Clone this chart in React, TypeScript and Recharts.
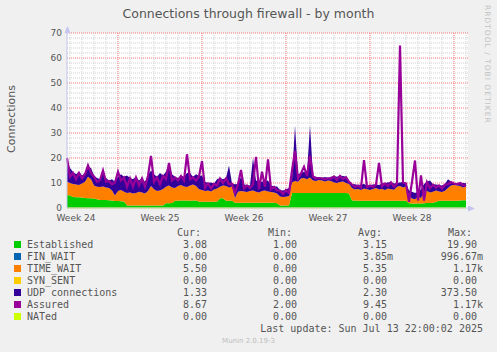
import {
  Area,
  CartesianGrid,
  ComposedChart,
  Line,
  XAxis,
  YAxis,
} from "recharts";

// 6-hour samples, oldest first (134 points, about 33 days)
const established = [
  5.2, 5.0, 4.4, 4.3, 4.3, 4.2, 4.0, 3.9, 3.9, 3.8,
  3.5, 3.2, 3.2, 3.2, 3.1, 3.0, 2.8, 2.8, 2.7, 2.6,
  1.0, 1.0, 1.0, 1.0, 1.0, 1.0, 1.0, 1.0, 1.0, 1.0,
  1.0, 1.0, 1.0, 1.9, 1.9, 2.0, 2.9, 2.9, 3.0, 3.0,
  3.0, 2.9, 3.0, 3.0, 2.6, 2.5, 2.5, 2.5, 2.5, 2.5,
  2.5, 3.9, 3.9, 2.9, 2.9, 2.9, 2.1, 2.1, 2.1, 2.1,
  2.1, 2.1, 2.1, 2.1, 2.1, 2.1, 2.1, 2.1, 2.1, 2.1,
  1.9, 1.0, 1.0, 1.0, 1.0, 6.0, 6.0, 6.0, 6.0, 6.0,
  6.0, 6.0, 6.0, 6.0, 6.0, 6.0, 6.0, 6.0, 6.0, 6.0,
  6.0, 6.0, 6.0, 6.0, 5.8, 3.0, 3.0, 2.9, 2.9, 2.9,
  2.9, 2.9, 2.9, 2.9, 2.9, 2.9, 2.9, 2.9, 2.9, 2.9,
  2.9, 2.9, 2.9, 2.9, 1.9, 1.8, 1.8, 1.8, 1.8, 1.9,
  2.0, 2.0, 2.1, 2.4, 2.9, 2.9, 2.9, 2.9, 2.9, 2.9,
  2.9, 3.0, 3.1, 3.08,
];

const timeWait = [
  5.3, 5.0, 5.2, 5.1, 4.9, 5.6, 6.5, 8.6, 7.6, 5.2,
  5.0, 5.2, 5.4, 5.0, 4.9, 4.0, 2.2, 4.0, 4.5, 3.9,
  5.0, 5.2, 4.8, 5.0, 5.5, 5.2, 4.8, 5.8, 7.8, 6.5,
  5.8, 6.0, 6.6, 6.6, 7.1, 6.2, 5.1, 5.9, 6.2, 5.6,
  5.4, 6.1, 6.4, 5.8, 4.9, 4.7, 4.3, 4.5, 4.1, 4.9,
  5.3, 4.6, 5.1, 5.9, 5.3, 5.7, 1.9, 4.4, 4.7, 4.5,
  4.3, 4.7, 4.9, 4.4, 4.1, 4.7, 4.9, 4.5, 4.3, 4.1,
  3.9, 3.6, 3.4, 3.5, 3.8, 4.2, 4.8, 4.5, 5.8, 6.0,
  5.5, 6.2, 5.0, 4.8, 5.2, 5.0, 4.6, 5.0, 4.8, 4.2,
  4.0, 4.4, 4.6, 4.0, 3.8, 5.0, 4.4, 4.7, 4.3, 4.9,
  4.6, 4.3, 4.7, 5.1, 4.5, 4.7, 4.3, 4.9, 4.6, 4.4,
  5.6, 5.9, 5.3, 5.7, 3.1, 2.0, 1.7, 2.7, 2.2, 4.6,
  4.8, 4.2, 4.4, 4.6, 3.7, 3.5, 4.0, 5.1, 6.1, 6.3,
  6.1, 5.8, 5.1, 5.5,
];

const udp = [
  8.5, 6.0, 4.9, 4.1, 5.3, 3.2, 3.5, 4.0, 4.5, 4.0,
  3.5, 3.1, 6.2, 3.8, 3.0, 4.5, 5.5, 5.7, 6.3, 6.0,
  7.0, 5.8, 5.7, 6.5, 4.5, 5.8, 4.7, 6.2, 6.2, 6.0,
  5.7, 7.0, 5.4, 6.0, 8.5, 5.3, 4.5, 3.2, 3.8, 3.9,
  5.6, 5.0, 3.1, 4.7, 5.3, 5.8, 3.7, 3.0, 3.6, 2.4,
  3.7, 3.5, 2.5, 3.2, 8.8, 1.2, 5.5, 3.1, 5.7, 2.8,
  2.8, 2.2, 13.0, 4.5, 4.4, 3.7, 3.8, 4.4, 2.6, 2.4,
  2.8, 2.6, 2.6, 2.9, 3.2, 1.3, 22.2, 3.0, 2.2, 2.5,
  2.5, 20.8, 1.8, 1.7, 1.0, 1.0, 1.8, 1.0, 1.7, 2.6,
  2.5, 2.6, 2.2, 2.5, 1.4, 1.6, 2.1, 1.6, 2.2, 1.8,
  1.5, 2.0, 1.8, 1.5, 1.8, 2.2, 2.8, 2.4, 3.0, 2.5,
  1.5, 1.4, 2.2, 1.4, 2.0, 2.7, 2.5, 2.0, 3.5, 3.1,
  3.7, 4.8, 3.0, 2.4, 2.6, 2.6, 2.7, 3.5, 1.6, 0.8,
  0.8, 1.4, 1.8, 1.33,
];

// assured swings quickly between the TIME_WAIT top and the UDP top
const assured = [
  20.0, 12.5, 14.0, 11.5, 14.0, 11.8, 13.5, 17.0, 14.0, 12.5,
  10.5, 11.2, 15.0, 10.5, 10.8, 9.5, 10.2, 14.5, 11.0, 12.2,
  8.5, 11.8, 8.5, 12.2, 9.0, 11.8, 8.5, 12.8, 20.8, 10.5,
  12.2, 9.5, 12.8, 11.5, 18.0, 11.0, 12.2, 11.0, 12.8, 11.0,
  21.5, 11.5, 12.2, 11.0, 12.6, 18.8, 8.0, 9.8, 7.8, 9.6,
  9.0, 11.8, 10.0, 11.8, 9.5, 9.6, 6.0, 9.4, 15.2, 7.8,
  9.0, 8.0, 9.5, 20.5, 7.5, 14.5, 8.5, 19.5, 7.5, 8.4,
  7.0, 7.0, 5.6, 7.2, 6.0, 15.0, 22.8, 11.8, 13.8, 16.5,
  12.8, 20.8, 12.6, 11.8, 12.0, 11.9, 11.6, 11.9, 11.8, 12.6,
  11.2, 12.8, 11.6, 12.3, 10.5, 9.4, 8.4, 9.0, 8.2, 19.2,
  8.4, 9.0, 8.4, 9.3, 18.0, 8.6, 9.8, 8.8, 10.3, 8.5,
  9.8, 65.0, 10.2, 9.8, 2.5, 10.5, 19.0, 3.0, 13.0, 3.0,
  10.3, 8.0, 9.3, 8.2, 9.0, 7.8, 9.4, 9.5, 10.4, 9.8,
  9.6, 10.0, 9.2, 8.67,
];

// FIN_WAIT, SYN_SENT and NATed stay at zero over the month
const zeroSeries = [
  0, 0, 0, 0, 0, 0, 0, 0, 0, 0, 0, 0, 0, 0, 0, 0, 0, 0, 0, 0,
  0, 0, 0, 0, 0, 0, 0, 0, 0, 0, 0, 0, 0, 0, 0, 0, 0, 0, 0, 0,
  0, 0, 0, 0, 0, 0, 0, 0, 0, 0, 0, 0, 0, 0, 0, 0, 0, 0, 0, 0,
  0, 0, 0, 0, 0, 0, 0, 0, 0, 0, 0, 0, 0, 0, 0, 0, 0, 0, 0, 0,
  0, 0, 0, 0, 0, 0, 0, 0, 0, 0, 0, 0, 0, 0, 0, 0, 0, 0, 0, 0,
  0, 0, 0, 0, 0, 0, 0, 0, 0, 0, 0, 0, 0, 0, 0, 0, 0, 0, 0, 0,
  0, 0, 0, 0, 0, 0, 0, 0, 0, 0, 0, 0, 0, 0,
];
const finWait = zeroSeries;
const synSent = zeroSeries;
const nated = zeroSeries;

// x axis is in hours from the left edge of the graph
const weekTicks = [18, 186, 354, 522, 690];
const weekLabels = ["Week 24", "Week 25", "Week 26", "Week 27", "Week 28"];
const weekLines = [102, 270, 438, 606, 774];
const dayLines = [
  6, 30, 54, 78, 126, 150, 174, 198, 222, 246, 294, 318, 342, 366, 390,
  414, 462, 486, 510, 534, 558, 582, 630, 654, 678, 702, 726, 750, 798,
];
const yTicks = [0, 10, 20, 30, 40, 50, 60, 70];
const yMajor = [10, 20, 30, 40, 50, 60, 70];
const yMinor = [
  2, 4, 6, 8, 12, 14, 16, 18, 22, 24, 26, 28, 32, 34, 36, 38, 42, 44, 46, 48,
  52, 54, 56, 58, 62, 64, 66, 68,
];

const legendNames = [
  "Established",
  "FIN_WAIT",
  "TIME_WAIT",
  "SYN_SENT",
  "UDP connections",
  "Assured",
  "NATed",
];
const legendColors = ["#00CC00", "#0066B3", "#FF8000", "#FFCC00", "#330099", "#990099", "#CCFF00"];
const curValues = ["3.08 ", "0.00 ", "5.50 ", "0.00 ", "1.33 ", "8.67 ", "0.00 "];
const minValues = ["1.00 ", "0.00 ", "0.00 ", "0.00 ", "0.00 ", "2.00 ", "0.00 "];
const avgValues = ["3.15 ", "3.85m", "5.35 ", "0.00 ", "2.30 ", "9.45 ", "0.00 "];
const maxValues = ["19.90 ", "996.67m", "1.17k", "0.00 ", "373.50 ", "1.17k", "0.00 "];

const table = established.map((v, i) => ({
  t: i * 6,
  established: v,
  finWait: finWait[i],
  timeWait: timeWait[i],
  synSent: synSent[i],
  udp: udp[i],
  assured: assured[i],
  nated: nated[i],
}));

const X_DOMAIN = [0, 802];
const Y_DOMAIN = [0, 70];

const TEXT = "#555555";
const SANS = "'DejaVu Sans', sans-serif";
const MONO = "'DejaVu Sans Mono', monospace";
const AXIS = "#c4c4ee";
const MINOR = "#cfcfcf";
const MAJOR = "#f47474";

// grid lines: minor ones first, then the major (red) ones
const gridYValues = [...yMinor, ...yMajor];
const gridXValues = [...dayLines, ...weekLines];

const applyScale = (s: any, v: number) => {
  if (typeof s === "function") return s(v);
  if (s && typeof s.map === "function") return s.map(v);
  return undefined;
};
const gridY = (props: any) =>
  gridYValues.map((v) => {
    const p = applyScale(props?.yAxis?.scale, v);
    if (typeof p === "number" && !isNaN(p)) return p;
    const o = props.offset;
    return o.top + o.height * (1 - (v - Y_DOMAIN[0]) / (Y_DOMAIN[1] - Y_DOMAIN[0]));
  });
const gridX = (props: any) =>
  gridXValues.map((v) => {
    const p = applyScale(props?.xAxis?.scale, v);
    if (typeof p === "number" && !isNaN(p)) return p;
    const o = props.offset;
    return o.left + (o.width * (v - X_DOMAIN[0])) / (X_DOMAIN[1] - X_DOMAIN[0]);
  });

const gridLine = (minorCount: number) => (p: any) => {
  const major = typeof p.index === "number" && p.index >= minorCount;
  return (
    <line
      key={p.key}
      x1={p.x1}
      y1={p.y1}
      x2={p.x2}
      y2={p.y2}
      stroke={major ? MAJOR : MINOR}
      strokeDasharray="1 1"
      fill="none"
    />
  );
};

const mono = (extra: React.CSSProperties): React.CSSProperties => ({
  position: "absolute",
  fontFamily: MONO,
  fontSize: 10,
  lineHeight: "12px",
  color: TEXT,
  whiteSpace: "pre",
  ...extra,
});

export default function App() {
  return (
    <div
      style={{
        position: "absolute",
        left: 0,
        top: 0,
        width: 497,
        height: 352,
        background: "#f0f0f0",
        overflow: "hidden",
      }}
    >
      <ComposedChart
        width={497}
        height={352}
        data={table}
        margin={{ top: 33, right: 29, bottom: 124, left: 27 }}
      >
        <CartesianGrid
          fill="#ffffff"
          horizontal={gridLine(yMinor.length)}
          vertical={gridLine(dayLines.length)}
          horizontalCoordinatesGenerator={gridY}
          verticalCoordinatesGenerator={gridX}
        />
        <XAxis
          type="number"
          dataKey="t"
          domain={X_DOMAIN}
          ticks={weekTicks}
          interval={0}
          tickFormatter={(v) => weekLabels[weekTicks.indexOf(v)]}
          axisLine={{ stroke: AXIS }}
          tickLine={false}
          tickSize={2}
          tickMargin={5}
          height={20}
          tick={{ fontSize: 9, fill: TEXT, fontFamily: SANS }}
        />
        <YAxis
          type="number"
          domain={Y_DOMAIN}
          ticks={yTicks}
          interval={0}
          width={40}
          axisLine={{ stroke: AXIS }}
          tickLine={false}
          tickSize={3}
          tickMargin={2}
          tick={{ fontSize: 9, fill: TEXT, fontFamily: SANS }}
        />
        <Area type="linear" dataKey="established" stackId="a" stroke="none" fill="#00CC00" fillOpacity={1} isAnimationActive={false} />
        <Area type="linear" dataKey="finWait" stackId="a" stroke="none" fill="#0066B3" fillOpacity={1} isAnimationActive={false} />
        <Area type="linear" dataKey="timeWait" stackId="a" stroke="none" fill="#FF8000" fillOpacity={1} isAnimationActive={false} />
        <Area type="linear" dataKey="synSent" stackId="a" stroke="none" fill="#FFCC00" fillOpacity={1} isAnimationActive={false} />
        <Area type="linear" dataKey="udp" stackId="a" stroke="none" fill="#330099" fillOpacity={1} isAnimationActive={false} />
        <Line type="linear" dataKey="assured" stroke="#990099" strokeWidth={2.2} dot={false} isAnimationActive={false} />
        <Line type="linear" dataKey="nated" stroke="#CCFF00" strokeWidth={1} dot={false} isAnimationActive={false} />
      </ComposedChart>

      {/* axis arrows */}
      <svg width={497} height={352} style={{ position: "absolute", left: 0, top: 0, pointerEvents: "none" }}>
        <line x1={67.5} y1={33} x2={67.5} y2={29} stroke={AXIS} />
        <polygon points="64.5,33 70.5,33 67.5,26" fill={AXIS} />
        <line x1={468} y1={208.5} x2={471} y2={208.5} stroke={AXIS} />
        <polygon points="468,205.5 468,211.5 475,208.5" fill={AXIS} />
      </svg>

      <div
        style={{
          position: "absolute",
          left: 0,
          width: 497,
          top: 5,
          textAlign: "center",
          fontFamily: SANS,
          fontSize: 12.5,
          color: TEXT,
          lineHeight: "17px",
        }}
      >
        Connections through firewall - by month
      </div>

      <div
        style={{
          position: "absolute",
          left: 10.5,
          top: 119,
          transform: "translate(-50%, -50%) rotate(-90deg)",
          fontFamily: SANS,
          fontSize: 11,
          color: TEXT,
          whiteSpace: "nowrap",
        }}
      >
        Connections
      </div>

      <div
        style={{
          position: "absolute",
          left: 483,
          top: 5,
          writingMode: "vertical-rl",
          fontFamily: SANS,
          fontSize: 7.5,
          color: "#c2c2c2",
          whiteSpace: "nowrap",
          letterSpacing: 1,
        }}
      >
        RRDTOOL / TOBI OETIKER
      </div>

      <div style={mono({ left: 177, top: 227 })}>Cur:</div>
      <div style={mono({ left: 268, top: 227 })}>Min:</div>
      <div style={mono({ left: 358, top: 227 })}>Avg:</div>
      <div style={mono({ left: 448, top: 227 })}>Max:</div>

      {legendNames.map((name, i) => (
        <div key={name}>
          <div
            style={{
              position: "absolute",
              left: 14,
              top: 241 + i * 12,
              width: 7,
              height: 7,
              background: legendColors[i],
            }}
          />
          <div style={mono({ left: 27, top: 239 + i * 12 })}>{name}</div>
          <div style={mono({ right: 497 - 213, top: 239 + i * 12 })}>{curValues[i]}</div>
          <div style={mono({ right: 497 - 303, top: 239 + i * 12 })}>{minValues[i]}</div>
          <div style={mono({ right: 497 - 393, top: 239 + i * 12 })}>{avgValues[i]}</div>
          <div style={mono({ right: 497 - 483, top: 239 + i * 12 })}>{maxValues[i]}</div>
        </div>
      ))}

      <div style={mono({ right: 497 - 483, top: 323 })}>
        Last update: Sun Jul 13 22:00:02 2025
      </div>

      <div
        style={{
          position: "absolute",
          left: 0,
          width: 497,
          top: 336,
          textAlign: "center",
          fontFamily: SANS,
          fontSize: 7,
          color: "#bdbdbd",
          lineHeight: "10px",
        }}
      >
        Munin 2.0.19-3
      </div>
    </div>
  );
}
